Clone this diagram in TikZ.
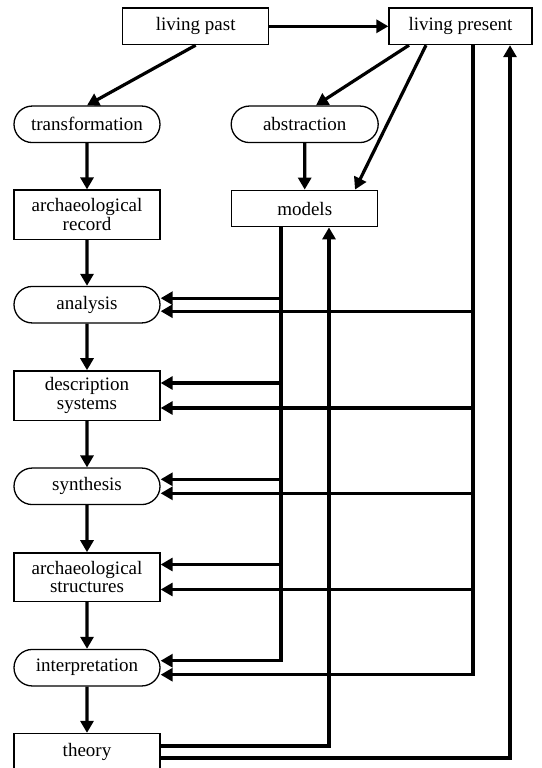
\documentclass[tikz,border=0pt]{standalone}
\usepackage{fontspec}
\setmainfont{Liberation Serif}
\usetikzlibrary{positioning}
\usetikzlibrary{arrows.meta,shapes.misc}

\begin{document}
\begin{tikzpicture}[x=1pt, y=-1pt, rect node/.style={shape=rectangle,draw=black,line width=1.3pt,minimum width=146pt,minimum height=36.5pt,inner sep=0,align=center,font=\fontsize{19}{18.5}\selectfont}, round node/.style={rect node,shape=rounded rectangle}, flow/.style={line width=3.2pt,-{Triangle[length=12pt,width=13pt]}}, ]
		\useasboundingbox (0,0) rectangle (541,768);
		\node[rect node] (past) at (195.7,26.3){living past};
		\node[rect node,minimum width=143pt] (present) at (460.5,26.3){living present};
		\node[round node] (transf) at (87,124.3){transformation};
		\node[round node,minimum width=147pt] (abstr) at (304.7,124.3){abstraction};
		\node[rect node,minimum height=49.3pt] (record) at (87,214.7){archaeological\\record};
		\node[rect node] (models) at (304.7,208.5){models};
		\node[round node] (analysis) at (87,304.7){analysis};
		\node[rect node,minimum height=49.3pt] (descr) at (87,395.5){description\\systems};
		\node[round node] (synth) at (87,486.3){synthesis};
		\node[rect node,minimum height=48.3pt] (struct) at (87,577){archaeological\\structures};
		\node[round node] (interp) at (87,667.7){interpretation};
		\node[rect node,minimum height=37pt] (theory) at (87,752){theory};
		
		%top arrows
		\draw[flow] (past) -- (present);
		\draw[flow] (past.south) -- (transf.north);
		\draw[flow] ([xshift=-51.5pt]present.south) -- ([xshift=11.3pt]abstr.north);
		\draw[flow] ([xshift=-34.5pt]present.south) -- ([xshift=50.3pt]models.north);
		\draw[flow] (abstr) -- (models);
		
		%main chain
		\foreach \a/\b in {transf/record,record/analysis,analysis/descr,descr/synth,synth/struct,struct/interp,interp/theory}
		{
		    \draw[flow] (\a) -- (\b);
		}
		
		%feedback lines
		\coordinate (mdown) at ([xshift=-23.7pt]models.south);
		\coordinate (mup) at ([xshift=24.3pt]models.south);
		\coordinate (pdown) at ([xshift=12.5pt]present.south);
		\coordinate (pup) at ([xshift=49.5pt]present.south);
		\foreach \n/\d in {analysis/6.5,descr/12.5,synth/7,struct/12.5,interp/7,theory/6}
		{
		    \coordinate (\n-hi) at ([yshift=\d pt]\n.east);
		    \coordinate (\n-lo) at ([yshift=-\d pt]\n.east);
		}
		\draw[flow] (mdown) |- (interp-hi);
		\draw[flow] (pdown) |- (interp-lo);
		\foreach \n in {analysis,descr,synth,struct}
		{
		    \draw[flow] (mdown |- \n-hi) -- (\n-hi);
		    \draw[flow] (pdown |- \n-lo) -- (\n-lo);
		}
		\draw[flow] (theory-hi) -| (mup);
		\draw[flow] (theory-lo) -| (pup);
		
		\end{tikzpicture}
\end{document}
